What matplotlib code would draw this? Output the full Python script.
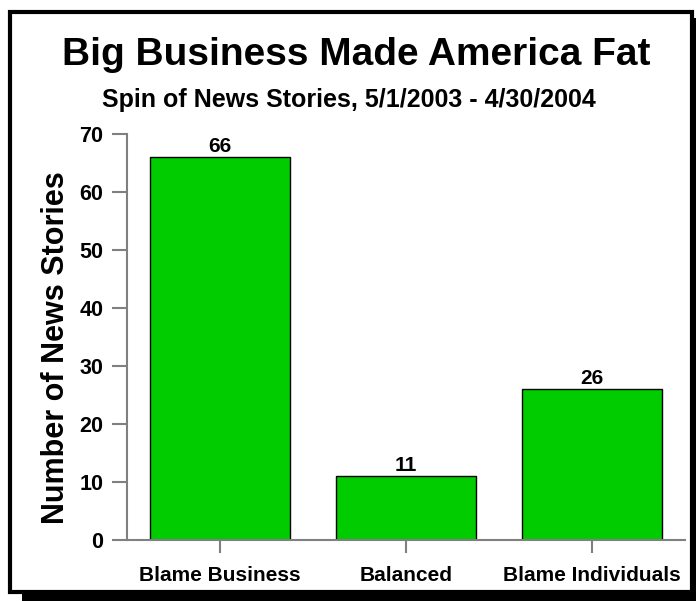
import matplotlib
matplotlib.use("Agg")
import matplotlib.pyplot as plt
from matplotlib.patches import Rectangle

categories = ["Blame Business", "Balanced", "Blame Individuals"]
stories = [66, 11, 26]
yticks = [0, 10, 20, 30, 40, 50, 60, 70]

plt.rcParams['font.family'] = ['Liberation Sans', 'DejaVu Sans']

fig = plt.figure(figsize=(6.96, 6.01), dpi=100)
fig.patch.set_facecolor('white')

# drop shadow + framed panel
W, H = 696.0, 601.0
fig.patches.append(Rectangle((22 / W, 0), 1 - 22 / W, 1 - 18 / H,
                             transform=fig.transFigure, facecolor='black',
                             edgecolor='none', zorder=0))
fig.patches.append(Rectangle((10 / W, 9 / H), 682 / W, 580 / H,
                             transform=fig.transFigure, facecolor='white',
                             edgecolor='black', linewidth=3, zorder=1))

ax = fig.add_axes([127 / W, 1 - 540 / H, 558 / W, 406 / H])
ax.set_zorder(3)
ax.set_facecolor('none')

x = range(len(categories))
bars = ax.bar(x, stories, width=0.753, color='#00CC00', edgecolor='black',
              linewidth=1)
for b, v in zip(bars, stories):
    ax.text(b.get_x() + b.get_width() / 2, v + 0.25, str(v), ha='center',
            va='bottom', fontsize=15, fontweight='bold')

ax.set_xlim(-0.5, 2.5)
ax.set_ylim(0, 70)
ax.set_yticks(yticks)
ax.set_xticks(list(x))
ax.set_xticklabels(categories, fontsize=15, fontweight='bold')
for lbl in ax.get_yticklabels():
    lbl.set_fontsize(15.5)
    lbl.set_fontweight('bold')

for s in ['top', 'right']:
    ax.spines[s].set_visible(False)
for s in ['left', 'bottom']:
    ax.spines[s].set_color('#808080')
    ax.spines[s].set_linewidth(1.5)
ax.tick_params(axis='y', length=11, width=1.5, color='#808080', pad=6)
ax.tick_params(axis='x', length=9.5, width=1.5, color='#808080', pad=9)

ax.set_ylabel('Number of News Stories', fontsize=22, fontweight='bold')
ax.yaxis.set_label_coords(-0.101, 0.475)

fig.text(356 / W, 1 - 55 / H, 'Big Business Made America Fat', ha='center',
         va='center', fontsize=28, fontweight='bold', zorder=3)
fig.text(349 / W, 1 - 100 / H, 'Spin of News Stories, 5/1/2003 - 4/30/2004',
         ha='center', va='center', fontsize=18, fontweight='bold', zorder=3)

fig.savefig('out.png', dpi=100)
